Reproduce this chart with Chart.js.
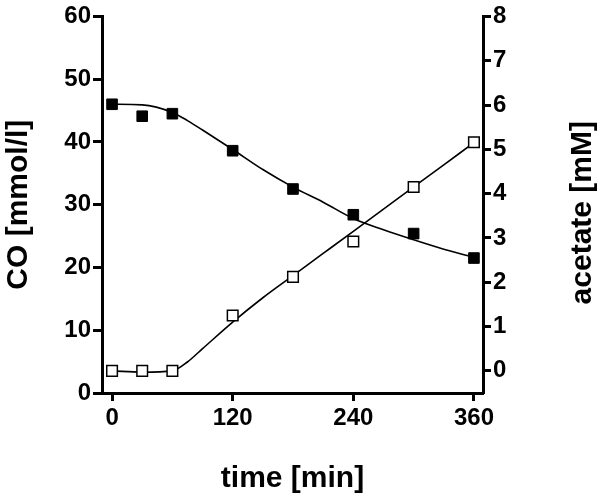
<!DOCTYPE html>
<html lang="en">
<head>
    <meta charset="UTF-8">
    <title>CO and acetate</title>
    <script src="https://cdn.jsdelivr.net/npm/chart.js"></script>
    <style>
        html, body {
            margin: 0;
            padding: 0;
            background: white;
        }
        .chart-container {
            width: 600px;
            height: 498px;
        }
    </style>
</head>
<body>
    <div class="chart-container">
        <canvas id="coChart"></canvas>
    </div>

    <script>
        // measured values
        const timeMin = [0, 30, 60, 120, 180, 240, 300, 360];
        const coMeasured = [46.0, 44.1, 44.5, 38.6, 32.5, 28.4, 25.4, 21.5];
        const acetateMeasured = [0.0, 0.0, 0.0, 1.25, 2.12, 2.92, 4.15, 5.16];

        // fitted curves
        const fitTime = [0, 30, 60, 75, 90, 120, 150, 180, 210, 240, 270, 300, 330, 360];
        const coFit = [46.0, 45.9, 44.7, 43.4, 41.9, 38.8, 35.6, 32.8, 30.4, 27.8, 26.0, 24.4, 22.9, 21.6];
        const acetateFit = [0.0, -0.03, 0.0, 0.2, 0.5, 1.1, 1.65, 2.15, 2.65, 3.15, 3.65, 4.15, 4.65, 5.15];

        // tick labels
        const timeTicks = [0, 120, 240, 360];
        const coTicks = [0, 10, 20, 30, 40, 50, 60];
        const acetateTicks = [0, 1, 2, 3, 4, 5, 6, 7, 8];

        const toXY = (xs, ys) => xs.map((x, i) => ({ x: x, y: ys[i] }));

        const tickFont = { family: 'Liberation Sans, Arial, sans-serif', size: 24, weight: 'bold' };
        const titleFont = { family: 'Liberation Sans, Arial, sans-serif', size: 30, weight: 'bold' };

        // right axis title reads bottom-to-top, Chart.js would rotate it the other way
        const rightTitle = {
            id: 'rightTitle',
            afterDraw(chart) {
                const ctx = chart.ctx;
                ctx.save();
                ctx.translate(583, (chart.chartArea.top + chart.chartArea.bottom) / 2 + 8);
                ctx.rotate(-Math.PI / 2);
                ctx.font = 'bold 30px Liberation Sans, Arial, sans-serif';
                ctx.fillStyle = '#000';
                ctx.textAlign = 'center';
                ctx.textBaseline = 'middle';
                ctx.fillText('acetate [mM]', 0, 0);
                ctx.restore();
            }
        };

        const ctx = document.getElementById('coChart').getContext('2d');
        new Chart(ctx, {
            type: 'scatter',
            data: {
                datasets: [
                    {
                        label: 'CO',
                        data: toXY(timeMin, coMeasured),
                        yAxisID: 'y',
                        pointStyle: 'rect',
                        pointRadius: 7.5,
                        backgroundColor: '#000',
                        borderColor: '#000',
                        borderWidth: 1,
                        showLine: false,
                        order: 0
                    },
                    {
                        label: 'acetate',
                        data: toXY(timeMin, acetateMeasured),
                        yAxisID: 'y2',
                        pointStyle: 'rect',
                        pointRadius: 7.5,
                        backgroundColor: '#fff',
                        borderColor: '#000',
                        borderWidth: 1.5,
                        showLine: false,
                        order: 0
                    },
                    {
                        label: 'CO fit',
                        data: toXY(fitTime, coFit),
                        yAxisID: 'y',
                        showLine: true,
                        pointRadius: 0,
                        borderColor: '#000',
                        borderWidth: 1.6,
                        cubicInterpolationMode: 'monotone',
                        order: 1
                    },
                    {
                        label: 'acetate fit',
                        data: toXY(fitTime, acetateFit),
                        yAxisID: 'y2',
                        showLine: true,
                        pointRadius: 0,
                        borderColor: '#000',
                        borderWidth: 1.6,
                        cubicInterpolationMode: 'monotone',
                        order: 1
                    }
                ]
            },
            options: {
                responsive: true,
                maintainAspectRatio: false,
                animation: false,
                layout: {
                    padding: { top: 12, right: 0, left: 0, bottom: 0 }
                },
                plugins: {
                    legend: { display: false },
                    tooltip: { enabled: false }
                },
                scales: {
                    x: {
                        type: 'linear',
                        position: 'bottom',
                        min: -10,
                        max: 369,
                        afterBuildTicks: scale => {
                            scale.ticks = timeTicks.map(v => ({ value: v }));
                        },
                        afterFit: scale => { scale.height = 105; },
                        border: { color: '#000', width: 3 },
                        grid: {
                            drawOnChartArea: false,
                            drawTicks: true,
                            tickLength: 8,
                            tickWidth: 3,
                            tickColor: '#000'
                        },
                        ticks: {
                            color: '#000',
                            font: tickFont,
                            padding: 3,
                            maxRotation: 0
                        },
                        title: {
                            display: true,
                            text: 'time [min]',
                            color: '#000',
                            font: titleFont,
                            padding: { top: 0, bottom: 1 }
                        }
                    },
                    y: {
                        position: 'left',
                        min: 0,
                        max: 60,
                        afterBuildTicks: scale => {
                            scale.ticks = coTicks.map(v => ({ value: v }));
                        },
                        afterFit: scale => { scale.width = 102; },
                        border: { color: '#000', width: 3 },
                        grid: {
                            drawOnChartArea: false,
                            drawTicks: true,
                            tickLength: 9,
                            tickWidth: 3,
                            tickColor: '#000'
                        },
                        ticks: {
                            color: '#000',
                            font: tickFont,
                            padding: 2
                        },
                        title: {
                            display: true,
                            text: 'CO [mmol/l]',
                            color: '#000',
                            font: titleFont,
                            padding: { top: 1, bottom: 0 }
                        }
                    },
                    y2: {
                        position: 'right',
                        min: -0.5,
                        max: 8,
                        afterBuildTicks: scale => {
                            scale.ticks = acetateTicks.map(v => ({ value: v }));
                        },
                        afterFit: scale => { scale.width = 117; },
                        border: { color: '#000', width: 3 },
                        grid: {
                            drawOnChartArea: false,
                            drawTicks: true,
                            tickLength: 8,
                            tickWidth: 3,
                            tickColor: '#000'
                        },
                        ticks: {
                            color: '#000',
                            font: tickFont,
                            padding: 2
                        }
                    }
                }
            },
            plugins: [rightTitle]
        });
    </script>
</body>
</html>
